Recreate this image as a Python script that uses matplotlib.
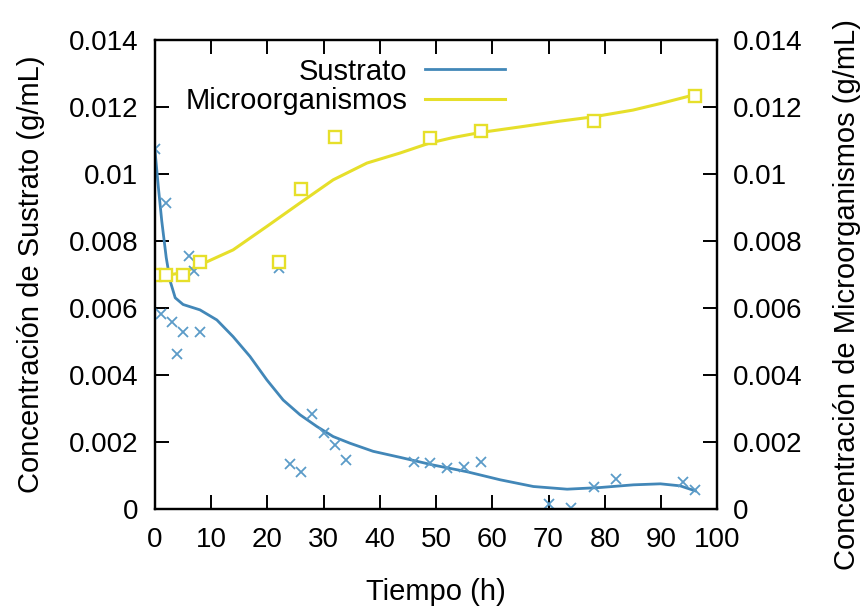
import matplotlib
matplotlib.use("Agg")
import matplotlib.pyplot as plt

plt.rcParams['font.family'] = ['Liberation Sans', 'DejaVu Sans']

# measured substrate (x markers)
t_sus = [0, 1, 2, 3, 4, 5, 6, 7, 8, 22, 24, 26, 28, 30, 32, 34,
         46, 49, 52, 55, 58, 70, 74, 78, 82, 94, 96]
y_sus = [0.01075, 0.00581, 0.00913, 0.00557, 0.00463, 0.00527, 0.00755, 0.00711, 0.00527,
         0.00718, 0.00134, 0.00110, 0.00283, 0.00228, 0.00191, 0.00146,
         0.00139, 0.00138, 0.00123, 0.00124, 0.00139, 0.00015, 0.00002, 0.00067, 0.00090,
         0.00079, 0.00057]

# measured microorganisms (squares)
t_mic = [0, 2, 5, 8, 22, 26, 32, 49, 58, 78, 96]
y_mic = [0.00697, 0.00697, 0.00697, 0.00736, 0.00736, 0.00954, 0.01110, 0.01106,
         0.01129, 0.01156, 0.01233]

# fitted curves
tc_sus = [0, 0.6, 1.2, 2.0, 2.7, 3.6, 5.0, 8.0, 11, 13.9, 16.9, 19.9, 22.8, 25.8, 28.8,
          31.7, 34.7, 38.8, 43.6, 49.5, 55.5, 61.4, 67.3, 73.3, 79.2, 85.1, 89.9, 93.4, 96.1]
yc_sus = [0.0107, 0.0096, 0.0086, 0.0075, 0.0068, 0.0063, 0.0061, 0.00594, 0.00564,
          0.00514, 0.00455, 0.00385, 0.00325, 0.00281, 0.00246, 0.00216, 0.00196, 0.00172,
          0.00154, 0.00131, 0.00111, 0.00087, 0.00067, 0.00059, 0.00064, 0.00072, 0.00075,
          0.00069, 0.00054]

tc_mic = [0, 2.7, 5, 8, 13.9, 19.9, 25.8, 31.7, 37.7, 43.6, 48.9, 53, 57.8,
          65, 72, 78, 85, 90, 96]
yc_mic = [0.00700, 0.00699, 0.00705, 0.00728, 0.00773, 0.00843, 0.00913, 0.00982, 0.01032,
          0.01062, 0.01092, 0.01108, 0.01123, 0.0114, 0.01157, 0.0117, 0.0119, 0.0121,
          0.01236]

yticks = [0, 0.002, 0.004, 0.006, 0.008, 0.01, 0.012, 0.014]
ytick_labels = ['0', '0.002', '0.004', '0.006', '0.008', '0.01', '0.012', '0.014']
xticks = list(range(0, 101, 10))

blue = '#4287b8'
yellow = '#e6df2a'

fig = plt.figure(figsize=(8.61, 6.11), dpi=100)
ax = fig.add_axes([0.18, 0.167, 0.653, 0.768])
ax2 = ax.twinx()

ax.plot(t_sus, y_sus, 'x', color='#5b9bc8', ms=7, mew=1.3, zorder=3)
ax.plot(tc_sus, yc_sus, '-', color=blue, lw=2, label='Sustrato')
ax.plot(t_mic, y_mic, 's', mfc='white', mec=yellow, ms=8, mew=1.7, zorder=3)
ax.plot(tc_mic, yc_mic, '-', color=yellow, lw=2.2, label='Microorganismos')

for a in (ax, ax2):
    a.set_xlim(0, 100)
    a.set_ylim(0, 0.014)
    a.set_yticks(yticks)
    a.set_yticklabels(ytick_labels)
    for s in a.spines.values():
        s.set_linewidth(1.6)

ax.set_xticks(xticks)
ax.tick_params(axis='both', direction='in', length=10, width=1.4, labelsize=20)
ax.tick_params(axis='x', top=True, pad=13)
ax.tick_params(axis='y', pad=12)
ax2.tick_params(axis='y', direction='in', length=10, width=1.4, labelsize=20, pad=11)

ax.set_xlabel('Tiempo (h)', fontsize=21)
ax.xaxis.set_label_coords(0.5, -0.147)
ax.set_ylabel('Concentración de Sustrato (g/mL)', fontsize=21)
ax.yaxis.set_label_coords(-0.196, 0.5)
ax2.set_ylabel('Concentración de Microorganismos (g/mL)', fontsize=21)
ax2.yaxis.label.set_horizontalalignment('left')
ax2.yaxis.set_label_coords(1.206, -0.13)

ax.legend(loc='upper right', bbox_to_anchor=(0.623, 0.962), frameon=False, fontsize=21,
          markerfirst=False, handlelength=2.75, handletextpad=0.6, labelspacing=0.05,
          borderpad=0, borderaxespad=0)

fig.savefig('out.png', dpi=100)
